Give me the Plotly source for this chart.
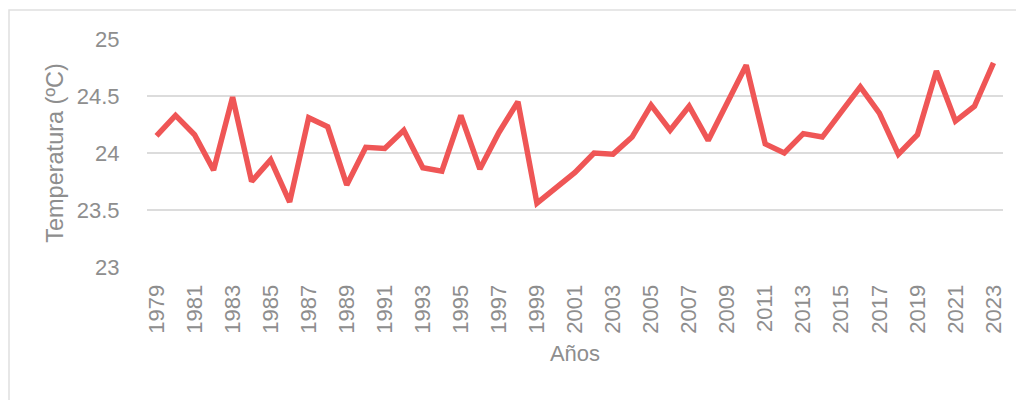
import plotly.graph_objects as go

years = [str(y) for y in range(1979, 2024)]
temps = [24.15, 24.33, 24.16, 23.85, 24.49, 23.75, 23.94, 23.57, 24.31, 24.23,
         23.72, 24.05, 24.04, 24.20, 23.87, 23.84, 24.33, 23.86, 24.18, 24.45,
         23.56, 23.69, 23.83, 24.00, 23.99, 24.14, 24.42, 24.20, 24.41, 24.11,
         24.44, 24.77, 24.08, 24.00, 24.17, 24.14, 24.36, 24.58, 24.35, 23.99,
         24.16, 24.72, 24.28, 24.41, 24.79]
x_ticks = years[::2]
y_ticks = [23, 23.5, 24, 24.5, 25]
y_ticktext = ["23", "23.5", "24", "24.5", "25"]

gray = "#8e8e8e"
font_family = "Liberation Sans, Arial, sans-serif"

fig = go.Figure(go.Scatter(
    x=years, y=temps, mode="lines",
    line=dict(color="#EF5656", width=5.5),
    hoverinfo="x+y",
))

fig.update_layout(
    width=1024, height=400,
    margin=dict(l=139, r=29, t=31, b=141),
    paper_bgcolor="white", plot_bgcolor="white",
    font=dict(family=font_family, color=gray, size=22),
    showlegend=False,
    xaxis=dict(
        type="category", range=[-0.5, len(years) - 0.5],
        tickmode="array", tickvals=x_ticks, ticktext=x_ticks,
        tickangle=-90, showgrid=False, zeroline=False, showline=False,
        ticks="outside", ticklen=8, tickcolor="rgba(0,0,0,0)",
        tickfont=dict(size=22, color=gray),
        title=dict(text="Años", font=dict(size=22, color=gray), standoff=12),
    ),
    yaxis=dict(
        range=[23, 25],
        tickmode="array", tickvals=y_ticks, ticktext=y_ticktext,
        showgrid=True, gridcolor="#dcdcdc", gridwidth=1.5,
        zeroline=False, showline=False,
        ticks="outside", ticklen=22, tickcolor="rgba(0,0,0,0)",
        tickfont=dict(size=22, color=gray),
        title=dict(text="Temperatura (ºC)", font=dict(size=23.5, color=gray), standoff=6),
    ),
    shapes=[dict(type="rect", xref="paper", yref="paper",
                 x0=-138 / 856, x1=1.1, y0=-150 / 228, y1=1 + 29 / 228,
                 line=dict(color="#e0e0e0", width=1.5), fillcolor="rgba(0,0,0,0)",
                 layer="below")],
)

fig.write_html("out.html")
